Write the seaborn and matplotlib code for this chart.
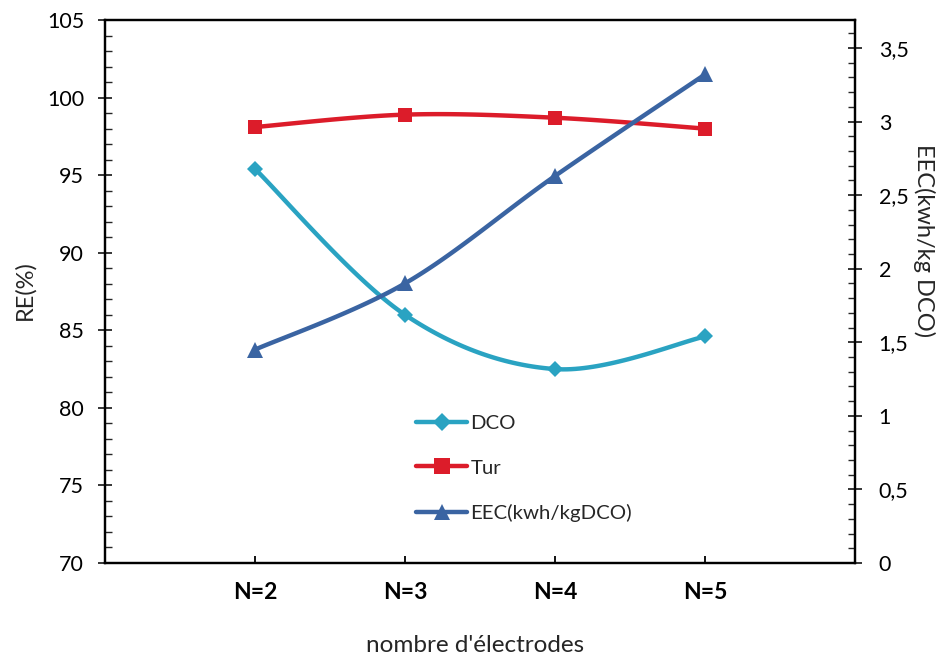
import numpy as np
import pandas as pd
import matplotlib
matplotlib.use("Agg")
import matplotlib.pyplot as plt
from matplotlib.lines import Line2D
from matplotlib.ticker import MultipleLocator, FuncFormatter
import seaborn as sns

# ---- data ----
categories = ["N=2", "N=3", "N=4", "N=5"]
dco = [95.4, 86.0, 82.5, 84.6]          # RE (%) - DCO
tur = [98.1, 98.9, 98.7, 98.0]          # RE (%) - turbidity
eec = [1.45, 1.90, 2.63, 3.32]          # kWh/kg DCO

col_dco = "#2AA3C2"
col_tur = "#DC1C2A"
col_eec = "#3A64A2"

sns.set_theme(style="white")
plt.rcParams["font.family"] = ["Lato", "DejaVu Sans"]


def smooth_curve(xs, ys, n=40):
    """Cubic Bezier smoothing through every point (control points at 1/6 of neighbour span)."""
    xs = np.asarray(xs, float)
    ys = np.asarray(ys, float)
    px = np.concatenate([[xs[0]], xs, [xs[-1]]])
    py = np.concatenate([[ys[0]], ys, [ys[-1]]])
    out_x, out_y = [], []
    t = np.linspace(0, 1, n)
    for i in range(1, len(px) - 2):
        p0 = np.array([px[i], py[i]])
        p3 = np.array([px[i + 1], py[i + 1]])
        c1 = p0 + (np.array([px[i + 1], py[i + 1]]) - np.array([px[i - 1], py[i - 1]])) / 6
        c2 = p3 - (np.array([px[i + 2], py[i + 2]]) - np.array([px[i], py[i]])) / 6
        b = ((1 - t) ** 3)[:, None] * p0 + (3 * (1 - t) ** 2 * t)[:, None] * c1 \
            + (3 * (1 - t) * t ** 2)[:, None] * c2 + (t ** 3)[:, None] * p3
        out_x.extend(b[:, 0])
        out_y.extend(b[:, 1])
    return np.array(out_x), np.array(out_y)


x = np.arange(len(categories))

fig = plt.figure(figsize=(9.4, 6.59), dpi=100)
ax = fig.add_axes([105 / 940, 96 / 659, 750 / 940, 543 / 659])
ax2 = ax.twinx()

for values, color, marker, ms, axis in [
    (dco, col_dco, "D", 8, ax),
    (tur, col_tur, "s", 10, ax),
    (eec, col_eec, "^", 11, ax2),
]:
    sx, sy = smooth_curve(x, values)
    sns.lineplot(x=sx, y=sy, ax=axis, color=color, lw=3.2, sort=False,
                 estimator=None, legend=False)
    sns.lineplot(x=x, y=values, ax=axis, color=color, lw=0, marker=marker,
                 markersize=ms, markeredgewidth=0, legend=False)

ax.set_xlim(-1, 4)
ax.set_ylim(70, 105)
ax2.set_ylim(0, 3.69)

ax.set_xticks(x)
ax.set_xticklabels(categories, fontsize=16.5, fontweight="bold")
ax.yaxis.set_major_locator(MultipleLocator(5))
ax.yaxis.set_minor_locator(MultipleLocator(1))
ax2.yaxis.set_major_locator(MultipleLocator(0.5))
ax2.yaxis.set_minor_locator(MultipleLocator(0.1))
ax2.yaxis.set_major_formatter(FuncFormatter(lambda v, p: f"{v:g}".replace(".", ",")))

for a in (ax, ax2):
    for s in a.spines.values():
        s.set_color("black")
        s.set_linewidth(1.6)
ax.tick_params(axis="x", direction="in", length=5, width=1.3, colors="black",
               pad=14, bottom=True)
ax.tick_params(axis="y", which="major", direction="inout", length=10, width=1.3,
               labelsize=15.5, left=True, right=False, pad=10)
ax.tick_params(axis="y", which="minor", direction="in", length=5, width=1.0,
               left=True, right=False)
ax2.tick_params(axis="y", which="major", direction="inout", length=10, width=1.3,
                labelsize=15.5, right=True, left=False, pad=12)
ax2.tick_params(axis="y", which="minor", direction="in", length=5, width=1.0,
                right=True, left=False)
for lab in ax.get_yticklabels() + ax2.get_yticklabels():
    lab.set_color("black")

ax.set_xlabel("")
ax.set_ylabel("")
ax2.set_ylabel("")
fig.text(475 / 940, 1 - 645 / 659, "nombre d'électrodes", ha="center", va="center",
         fontsize=17.5)
fig.text(25 / 940, 1 - 290 / 659, "RE(%)", ha="center", va="center", rotation=90,
         fontsize=17)
fig.text(924 / 940, 1 - 241 / 659, "EEC(kwh/kg DCO)", ha="center", va="center",
         rotation=270, fontsize=17)

handles = [
    Line2D([], [], color=col_dco, lw=3.2, marker="D", markersize=9, markeredgewidth=0),
    Line2D([], [], color=col_tur, lw=3.2, marker="s", markersize=11, markeredgewidth=0),
    Line2D([], [], color=col_eec, lw=3.2, marker="^", markersize=12, markeredgewidth=0),
]
ax2.legend(handles, ["DCO", "Tur", "EEC(kwh/kgDCO)"], loc="upper left",
           bbox_to_anchor=(0.396, 0.300), frameon=False, fontsize=14.7,
           handlelength=2.5, handletextpad=0.15, labelspacing=1.35,
           borderpad=0.2)

fig.savefig("out.png", dpi=100)
